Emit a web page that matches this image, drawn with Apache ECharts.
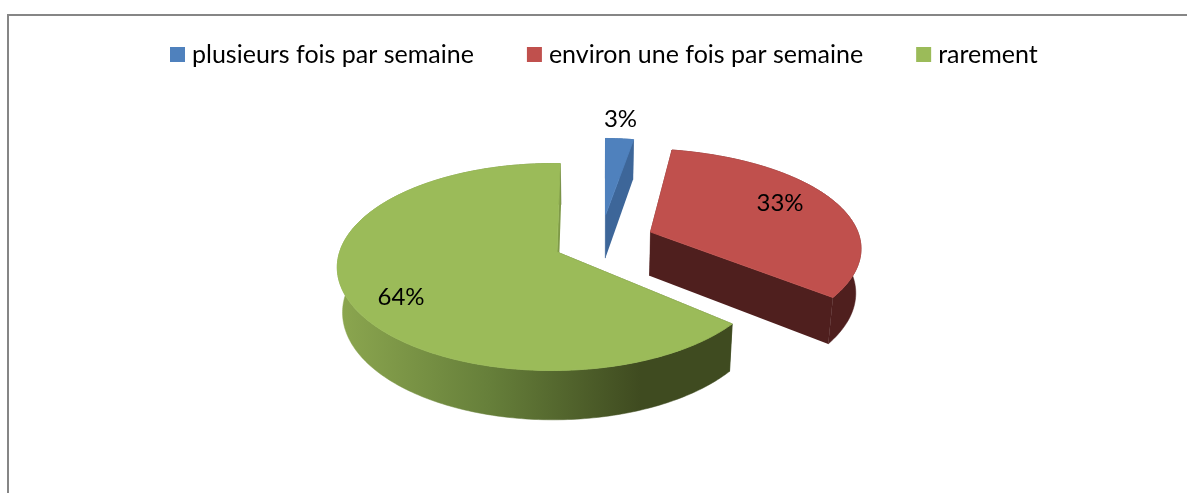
<!DOCTYPE html>
<html><head><meta charset="utf-8">
<style>html,body{margin:0;padding:0;background:#fff}#c{width:1187px;height:493px}</style>
<script src="https://cdn.jsdelivr.net/npm/echarts@6/dist/echarts.min.js"></script>
</head><body><div id="c"></div>
<script>
const categories = ['plusieurs fois par semaine', 'environ une fois par semaine', 'rarement'];
const values = [3, 33, 64];

// view of the tilted, exploded pie (one perspective per exploded slice)
const views = [
  {apex:[605.5,215], a:88,  b:172, k:.15,  m:0,    startAdj:0,    endAdj:0,   top:'#4f81bd', wall:'#3d6699', label:[620.5,119]},
  {apex:[650.5,232], a:98.1,b:226, k:.18,  m:-.09, startAdj:-4.3, endAdj:0,   top:'#c0504d', wall:'#4f1f1e', label:[780,203]},
  {apex:[557,252],   a:101.3,b:213,k:.145, m:-.02, startAdj:1.2,  endAdj:1,   top:'#9bbb59', wall:null,      label:[401,297]}
];
const vanishX = 600, shrink = .98;
const total = values.reduce((s,v)=>s+v,0);
const spans = []; let acc = 0;
values.forEach(v=>{spans.push([acc/total*360,(acc+v)/total*360]);acc+=v;});

function proj(view,deg){
  const t=deg*Math.PI/180, X=Math.sin(t), Y=-Math.cos(t), w=1-view.k*Y-view.m*X;
  return [view.apex[0]+view.b*X/w, view.apex[1]+view.a*Y/w];
}
function drop(p){ return [vanishX+(p[0]-vanishX)*shrink, p[1]+34.5+.04*p[1]]; }

function sliceRender(idx){
  return function(){
    const view=views[idx], s=spans[idx][0]+view.startAdj, e=spans[idx][1]+view.endAdj;
    const arc=[]; const n=Math.max(6,Math.ceil(e-s));
    for(let i=0;i<=n;i++) arc.push(proj(view,s+(e-s)*i/n));
    const low=arc.map(drop), A=view.apex, AL=drop(A);
    const sideFill = view.wall || new echarts.graphic.LinearGradient(340,0,640,0,[
      {offset:0,color:'#8ba64f'},{offset:.5,color:'#667f3a'},{offset:1,color:'#3f4b20'}],true);
    const firstWall = view.wall || '#3f4b20', lastWall = view.wall || '#7f9a48';
    const poly=(pts,fill,lw)=>({type:'polygon',shape:{points:pts},
      style:{fill:fill,stroke:lw?fill:null,lineWidth:lw}});
    const children=[
      poly([A,arc[0],low[0],AL],firstWall,.5),
      poly(arc.concat(low.slice().reverse()),sideFill,.5),
      poly([A,arc[n],low[n],AL],lastWall,0),
      poly([A].concat(arc),view.top,.9),
      {type:'text',style:{x:view.label[0],y:view.label[1],text:values[idx]+'%',
        fill:'#000',font:'24px Lato',align:'center',verticalAlign:'middle'}}
    ];
    return {type:'group',children};
  };
}

const chart=echarts.init(document.getElementById('c'),null,{renderer:'canvas'});
chart.setOption({
  animation:false,
  backgroundColor:'#fff',
  legend:{left:170,top:42,padding:0,itemWidth:15,itemHeight:15,itemGap:53,icon:'rect',
    data:categories,selectedMode:false,
    textStyle:{color:'#000',fontFamily:'Lato',fontSize:25,padding:[0,0,0,2]}},
  graphic:[{type:'polyline',silent:true,shape:{points:[[1187,15],[8,15],[8,493]]},
    style:{stroke:'#868686',lineWidth:2,fill:null}}],
  series:categories.map((name,i)=>({
    type:'custom',name,coordinateSystem:'none',
    itemStyle:{color:views[i].top},
    data:[values[i]],
    renderItem:sliceRender(i)
  }))
});
</script></body></html>
